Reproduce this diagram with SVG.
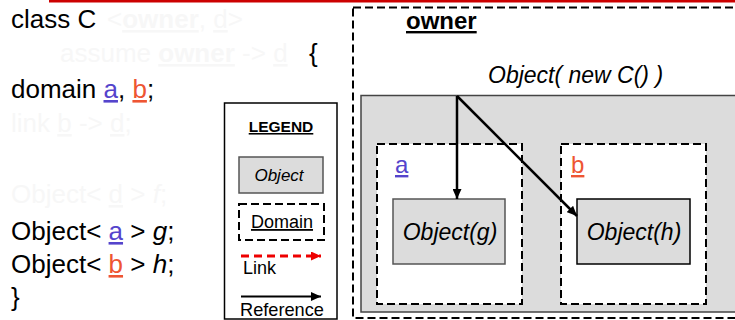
<svg xmlns="http://www.w3.org/2000/svg" width="735" height="320" viewBox="0 0 735 320">
<defs>
<style>
.t{font-family:"Liberation Sans",Arial,Helvetica,sans-serif;fill:#000}
.code{font-size:26px}
.faint{fill:#f7f7f7}
.u{text-decoration:underline}
.b{font-weight:bold}
.it{font-style:italic}
.dash{fill:none;stroke:#000;stroke-width:2;stroke-dasharray:8 4}
.dashw{fill:#fff;stroke:#000;stroke-width:2;stroke-dasharray:8 4}
.obj{fill:#dcdcdc;stroke:#555;stroke-width:1.5}
.ref{stroke:#000;stroke-width:2.5;fill:none}
.ca{fill:#5544cc}
.cb{fill:#ee5533}
</style>
<marker id="ah" markerWidth="10" markerHeight="9" refX="10" refY="4.5" orient="auto" markerUnits="userSpaceOnUse"><path d="M0,0 L10,4.5 L0,9 z" fill="#000"/></marker>
<marker id="ahr" markerWidth="10" markerHeight="9" refX="10" refY="4.5" orient="auto" markerUnits="userSpaceOnUse"><path d="M0,0 L10,4.5 L0,9 z" fill="#ee0000"/></marker>
</defs>
<rect x="49" y="0" width="686" height="2.5" fill="#cc0000"/>

<g id="code" class="t code">
<text x="11" y="28">class C</text>
<text x="107" y="28" class="faint">&lt;<tspan class="u b">owner</tspan>, <tspan class="u">d</tspan>&gt;</text>
<text x="60" y="62" class="faint">assume <tspan class="u b">owner</tspan> -&gt; <tspan class="u">d</tspan></text>
<text x="309" y="62">{</text>
<text x="11" y="98">domain <tspan class="u ca">a</tspan>, <tspan class="u cb">b</tspan>;</text>
<text x="11" y="132" class="faint">link <tspan class="u">b</tspan> -&gt; <tspan class="u">d</tspan>;</text>
<text x="11" y="203" class="faint">Object&lt; <tspan class="u">d</tspan> &gt; <tspan class="it">f</tspan>;</text>
<text x="11" y="240">Object&lt; <tspan class="u ca">a</tspan> &gt; <tspan class="it">g</tspan>;</text>
<text x="11" y="273">Object&lt; <tspan class="u cb">b</tspan> &gt; <tspan class="it">h</tspan>;</text>
<text x="11" y="306">}</text>
</g>

<g id="legend">
<rect x="224.5" y="103" width="112.5" height="216" fill="#fff" stroke="#000" stroke-width="1.5"/>
<text x="281" y="132" class="t b u" font-size="15.5" text-anchor="middle">LEGEND</text>
<rect x="239" y="157" width="84" height="36" class="obj"/>
<text x="279" y="181" class="t it" font-size="17" text-anchor="middle">Object</text>
<rect x="239" y="204" width="85" height="36" class="dash"/>
<text x="282" y="228" class="t u" font-size="18" text-anchor="middle">Domain</text>
<line x1="241" y1="256" x2="321" y2="256" stroke="#ee0000" stroke-width="3" stroke-dasharray="8 5" marker-end="url(#ahr)"/>
<text x="243" y="274" class="t" font-size="18">Link</text>
<line x1="241" y1="296.5" x2="321" y2="296.5" stroke="#000" stroke-width="2" marker-end="url(#ah)"/>
<text x="240" y="316" class="t" font-size="18.2">Reference</text>
</g>

<g id="owner">
<rect x="353" y="7.5" width="420" height="310.5" class="dash"/>
<text x="406" y="29" class="t b u" font-size="24">owner</text>
</g>

<g id="objC">
<text x="488" y="83" class="t it" font-size="23">Object( new C() )</text>
<rect x="361" y="95.5" width="420" height="216.5" fill="#dcdcdc" stroke="#444" stroke-width="1.5"/>
</g>

<g id="domainA">
<rect x="377" y="144" width="145" height="160" class="dashw"/>
<text x="395" y="173" class="t u ca" font-size="24">a</text>
</g>
<g id="domainB">
<rect x="561" y="144" width="145" height="160" class="dashw"/>
<text x="571" y="173" class="t u cb" font-size="24">b</text>
</g>

<g id="objG">
<rect x="393" y="199" width="112" height="65" class="obj"/>
<text x="450" y="240" class="t it" font-size="23" text-anchor="middle">Object(g)</text>
</g>
<g id="objH">
<rect x="577" y="199" width="113" height="65" fill="#dcdcdc" stroke="#000" stroke-width="1.5"/>
<text x="634" y="240" class="t it" font-size="23" text-anchor="middle">Object(h)</text>
</g>

<g id="connectors">
<line x1="457" y1="96" x2="457" y2="199" class="ref" marker-end="url(#ah)"/>
<line x1="457" y1="96" x2="577" y2="216" class="ref" marker-end="url(#ah)"/>
</g>
</svg>
